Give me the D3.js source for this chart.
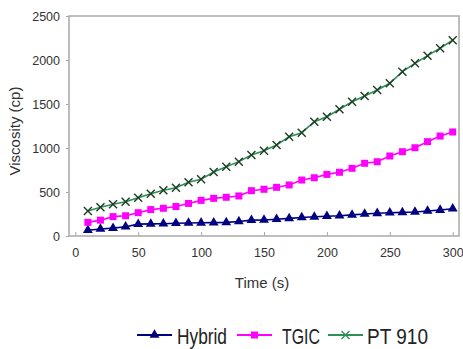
<!DOCTYPE html>
<html><head><meta charset="utf-8">
<script src="https://cdn.jsdelivr.net/npm/d3@7/dist/d3.min.js"></script>
<style>body{margin:0;background:#fff}svg{display:block}</style>
</head><body><svg id="c" width="463" height="349"></svg>
<script>
const times = [10,20,30,40,50,60,70,80,90,100,110,120,130,140,150,160,170,180,190,200,210,220,230,240,250,260,270,280,290,300];
const hybrid = [65,80,90,105,135,138,140,145,148,150,152,155,165,180,182,190,200,210,218,225,230,240,250,258,265,268,273,284,295,310];
const tgic = [155,180,220,230,265,300,315,335,370,405,428,440,455,515,531,553,580,636,662,700,724,769,826,844,909,958,1003,1072,1136,1182];
const pt910 = [284,326,360,390,435,481,519,549,610,645,727,788,845,920,970,1034,1129,1174,1299,1355,1440,1526,1591,1659,1735,1867,1962,2049,2133,2225];
const seriesNames = ["Hybrid","TGIC","PT 910"];
const xTicks = [0,50,100,150,200,250,300];
const yTicks = [0,500,1000,1500,2000,2500];

const svg = d3.select("#c");
const L=69,R=459,T=16,B=236;
const x = d3.scaleLinear().domain([-5,305]).range([L,R]);
const y = d3.scaleLinear().domain([0,2500]).range([B,T]);
const font = "Arial, 'Liberation Sans', sans-serif";

svg.append("rect").attr("x",L).attr("y",T).attr("width",R-L).attr("height",B-T)
  .attr("fill","#fff").attr("stroke","#a8a8a8").attr("stroke-width",1.5);

const xa = svg.append("g").attr("transform",`translate(0,${B})`)
  .call(d3.axisBottom(x).tickValues(xTicks).tickSize(-4).tickPadding(12).tickFormat(d3.format("d")));
const ya = svg.append("g").attr("transform",`translate(${L},0)`)
  .call(d3.axisLeft(y).tickValues(yTicks).tickSize(3).tickPadding(6).tickFormat(d3.format("d")));
[xa,ya].forEach(a=>{
  a.select(".domain").remove();
  a.selectAll(".tick line").attr("stroke","#a8a8a8");
  a.selectAll("text").attr("fill","#333").style("font-family",font).style("font-size","12.5px");
});

svg.append("text").attr("transform","translate(20,131) rotate(-90)").attr("text-anchor","middle")
  .style("font-family",font).style("font-size","15px").attr("fill","#333").text("Viscosity (cp)");
svg.append("text").attr("x",262).attr("y",288).attr("text-anchor","middle")
  .style("font-family",font).style("font-size","15px").attr("fill","#333").text("Time (s)");

const series = [
  {name:seriesNames[0], vals:hybrid, line:"#000080", mark:"#000080", shape:"tri"},
  {name:seriesNames[1], vals:tgic, line:"#ff00ff", mark:"#ff00ff", shape:"sq"},
  {name:seriesNames[2], vals:pt910, line:"#2f8f5a", mark:"#1b3d22", shape:"x"}
];
function drawMarker(g, shape, col){
  if(shape==="tri") g.append("path").attr("d",d3.symbol(d3.symbolTriangle,42)()).attr("fill",col);
  else if(shape==="sq") g.append("rect").attr("x",-3.5).attr("y",-3.5).attr("width",7).attr("height",7).attr("fill",col);
  else g.append("path").attr("d","M-4,-4L4,4M-4,4L4,-4").attr("stroke",col).attr("stroke-width",1.4).attr("fill","none");
}
const line = d3.line().x((d,i)=>x(times[i])).y(d=>y(d));
series.forEach(s=>{
  svg.append("path").datum(s.vals).attr("d",line).attr("fill","none").attr("stroke",s.line).attr("stroke-width",1.6);
  s.vals.forEach((v,i)=>{
    const g = svg.append("g").attr("transform",`translate(${x(times[i])},${y(v)})`);
    drawMarker(g,s.shape,s.mark);
  });
});

// legend
const lg = [{lx:137,tx:177,w:50},{lx:237,tx:282,w:38},{lx:328,tx:367,w:61}];
series.forEach((s,i)=>{
  const p=lg[i], cy=335;
  svg.append("line").attr("x1",p.lx).attr("x2",p.lx+35).attr("y1",cy).attr("y2",cy).attr("stroke",s.line).attr("stroke-width",2);
  const g=svg.append("g").attr("transform",`translate(${p.lx+17.5},${cy})`);
  drawMarker(g,s.shape,s.shape==="x"?s.line:s.mark);
  svg.append("text").attr("x",p.tx).attr("y",cy+8.5).style("font-family",font)
    .style("font-size","22px").attr("fill","#222")
    .attr("textLength",p.w).attr("lengthAdjust","spacingAndGlyphs").text(s.name);
});
</script></body></html>
